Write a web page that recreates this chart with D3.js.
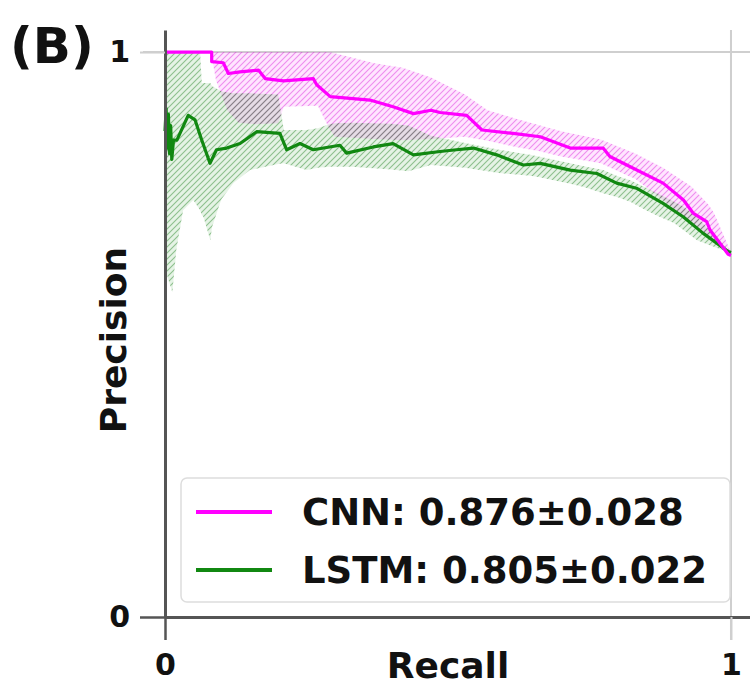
<!DOCTYPE html>
<html><head><meta charset="utf-8">
<script src="https://cdn.jsdelivr.net/npm/d3@7"></script>
<style>
body{margin:0;background:#fff}
text{font-family:"DejaVu Sans",sans-serif;font-weight:bold;fill:#111}
</style>
</head><body>
<svg id="c" width="750" height="685"></svg>
<script>
// ---- data ----
const seriesNames = ["CNN", "LSTM"];
const legendLabels = ["CNN: 0.876\u00b10.028", "LSTM: 0.805\u00b10.022"];
const xTicks = [0, 1];
const yTicks = [0, 1];

const cnnRecall    = [0, 0.0825, 0.0825, 0.103, 0.112, 0.1325, 0.165, 0.177, 0.209, 0.262, 0.268, 0.292, 0.362, 0.403, 0.439, 0.47, 0.486, 0.533, 0.56, 0.615, 0.663, 0.716, 0.774, 0.786, 0.822, 0.88, 0.916, 0.933, 0.957, 0.963, 0.995, 1.0];
const cnnPrecision = [1, 1, 0.983, 0.981, 0.962, 0.965, 0.968, 0.953, 0.949, 0.953, 0.942, 0.921, 0.915, 0.903, 0.891, 0.897, 0.893, 0.888, 0.862, 0.856, 0.850, 0.830, 0.830, 0.815, 0.797, 0.768, 0.738, 0.715, 0.700, 0.685, 0.642, 0.640];

const lstmRecall    = [0, 0.002, 0.004, 0.006, 0.008, 0.010, 0.012, 0.015, 0.021, 0.041, 0.053, 0.065, 0.0795, 0.091, 0.109, 0.1325, 0.162, 0.203, 0.215, 0.2385, 0.262, 0.309, 0.321, 0.368, 0.403, 0.439, 0.486, 0.515, 0.545, 0.586, 0.633, 0.663, 0.716, 0.763, 0.798, 0.833, 0.880, 0.916, 0.951, 0.995, 1.0];
const lstmPrecision = [0.86, 0.90, 0.83, 0.89, 0.82, 0.87, 0.81, 0.844, 0.844, 0.888, 0.880, 0.844, 0.803, 0.827, 0.830, 0.838, 0.859, 0.856, 0.827, 0.838, 0.827, 0.835, 0.821, 0.832, 0.838, 0.818, 0.824, 0.827, 0.830, 0.818, 0.800, 0.803, 0.791, 0.785, 0.768, 0.759, 0.732, 0.708, 0.679, 0.647, 0.645];

const cnnBandRecall = [0.083, 0.09, 0.11, 0.13, 0.16, 0.20, 0.21, 0.27, 0.29, 0.30, 0.37, 0.42, 0.47, 0.53, 0.57, 0.62, 0.66, 0.70, 0.77, 0.82, 0.83, 0.88, 0.93, 0.96, 0.97, 1.0];
const cnnHigh = [1, 1, 1, 1, 1, 1, 1, 1, 1, 0.998, 0.98, 0.972, 0.955, 0.925, 0.897, 0.882, 0.871, 0.86, 0.845, 0.825, 0.821, 0.795, 0.762, 0.73, 0.715, 0.645];
const cnnLow  = [0.99, 0.95, 0.897, 0.875, 0.872, 0.874, 0.903, 0.905, 0.865, 0.85, 0.846, 0.844, 0.846, 0.85, 0.843, 0.832, 0.825, 0.815, 0.803, 0.78, 0.776, 0.738, 0.697, 0.672, 0.665, 0.641];

const lstmBandRecall = [0, 0.005, 0.013, 0.02, 0.032, 0.05, 0.062, 0.065, 0.068, 0.08, 0.083, 0.097, 0.10, 0.121, 0.15, 0.20, 0.21, 0.25, 0.27, 0.29, 0.30, 0.33, 0.40, 0.43, 0.47, 0.53, 0.59, 0.645, 0.66, 0.716, 0.74, 0.774, 0.80, 0.822, 0.85, 0.87, 0.90, 0.916, 0.94, 0.957, 1.0];
const lstmHigh = [1, 1, 1, 1, 1, 1, 1, 0.945, 0.945, 0.945, 0.94, 0.932, 0.93, 0.927, 0.927, 0.925, 0.862, 0.862, 0.865, 0.872, 0.874, 0.875, 0.873, 0.87, 0.852, 0.839, 0.827, 0.818, 0.815, 0.803, 0.798, 0.791, 0.78, 0.773, 0.76, 0.75, 0.735, 0.726, 0.708, 0.69, 0.645];
const lstmLow  = [0.62, 0.60, 0.575, 0.65, 0.72, 0.738, 0.72, 0.712, 0.708, 0.667, 0.69, 0.732, 0.74, 0.768, 0.791, 0.802, 0.803, 0.791, 0.795, 0.797, 0.797, 0.797, 0.792, 0.789, 0.80, 0.795, 0.786, 0.781, 0.779, 0.767, 0.761, 0.75, 0.743, 0.735, 0.72, 0.71, 0.697, 0.685, 0.667, 0.66, 0.644];

const colors = {CNN: "#ff00ff", LSTM: "#118811"};

// ---- layout ----
const svg = d3.select("#c");
const x = d3.scaleLinear().domain([0, 1.0336]).range([165, 750]);
const y = d3.scaleLinear().domain([0, 1.039]).range([617, 30]);

const defs = svg.append("defs");
function hatch(id, fill, line) {
  const p = defs.append("pattern").attr("id", id)
    .attr("patternUnits", "userSpaceOnUse").attr("width", 6).attr("height", 6);
  p.append("rect").attr("width", 6).attr("height", 6).attr("fill", fill);
  p.append("path").attr("d", "M0,6 L6,0 M-1.5,1.5 L1.5,-1.5 M4.5,7.5 L7.5,4.5")
    .attr("stroke", line).attr("stroke-width", 1.1);
}
hatch("hCNN", "rgba(255,0,255,0.10)", "rgba(210,0,210,0.38)");
hatch("hLSTM", "rgba(0,140,0,0.10)", "rgba(0,110,0,0.38)");

// gridlines at tick 1
svg.append("line").attr("x1", 143).attr("x2", 750).attr("y1", y(1)).attr("y2", y(1))
  .attr("stroke", "#cfcfcf").attr("stroke-width", 2);
svg.append("line").attr("x1", x(1)).attr("x2", x(1)).attr("y1", 30).attr("y2", 640)
  .attr("stroke", "#cfcfcf").attr("stroke-width", 2);

// bands
function band(rec, lo, hi, id) {
  const data = rec.map((r, i) => ({r, lo: lo[i], hi: hi[i]}));
  svg.append("path").datum(data)
    .attr("d", d3.area().x(d => x(d.r)).y0(d => y(d.lo)).y1(d => y(d.hi)))
    .attr("fill", `url(#${id})`).attr("stroke", "none");
}
band(cnnBandRecall, cnnLow, cnnHigh, "hCNN");
band(lstmBandRecall, lstmLow, lstmHigh, "hLSTM");

// lines
function curve(rec, prec, col) {
  const data = rec.map((r, i) => [r, prec[i]]);
  svg.append("path").datum(data)
    .attr("d", d3.line().x(d => x(d[0])).y(d => y(d[1])))
    .attr("fill", "none").attr("stroke", col).attr("stroke-width", 3.2)
    .attr("stroke-linejoin", "round");
}
curve(lstmRecall, lstmPrecision, colors.LSTM);
curve(cnnRecall, cnnPrecision, colors.CNN);

// axes
const yAxis = svg.append("g").attr("transform", `translate(${x(0)},0)`)
  .call(d3.axisLeft(y).tickValues(yTicks).tickSizeInner(25).tickSizeOuter(0).tickPadding(10).tickFormat(d3.format("d")));
const xAxis = svg.append("g").attr("transform", `translate(0,${y(0)})`)
  .call(d3.axisBottom(x).tickValues(xTicks).tickSizeInner(23).tickSizeOuter(0).tickPadding(14).tickFormat(d3.format("d")));
[yAxis, xAxis].forEach(g => {
  g.select(".domain").attr("stroke", "#555").attr("stroke-width", 3);
  g.selectAll(".tick line").attr("stroke", d => d === 0 ? "#555" : "#cfcfcf").attr("stroke-width", d => d === 0 ? 2.5 : 2);
  g.selectAll(".tick text").style("font-size", "30px").style("font-family", "DejaVu Sans").style("font-weight", "bold").attr("fill", "#111");
});

// axis labels
svg.append("text").attr("transform", "translate(126,340) rotate(-90)")
  .attr("text-anchor", "middle").style("font-size", "36px").text("Precision");
svg.append("text").attr("x", 448).attr("y", 678)
  .attr("text-anchor", "middle").style("font-size", "36px").text("Recall");
svg.append("text").attr("x", 10).attr("y", 63).style("font-size", "50px").text("(B)");

// legend
const lg = svg.append("g");
lg.append("rect").attr("x", 181).attr("y", 478).attr("width", 549).attr("height", 124)
  .attr("rx", 6).attr("fill", "rgba(255,255,255,0.85)").attr("stroke", "#dddddd").attr("stroke-width", 1.5);
seriesNames.forEach((s, i) => {
  const yy = 512 + i * 58;
  lg.append("line").attr("x1", 196).attr("x2", 272).attr("y1", yy).attr("y2", yy)
    .attr("stroke", colors[s]).attr("stroke-width", 4);
  lg.append("text").attr("x", 302).attr("y", yy + 13).style("font-size", "37px").text(legendLabels[i]);
});
</script>
</body></html>
